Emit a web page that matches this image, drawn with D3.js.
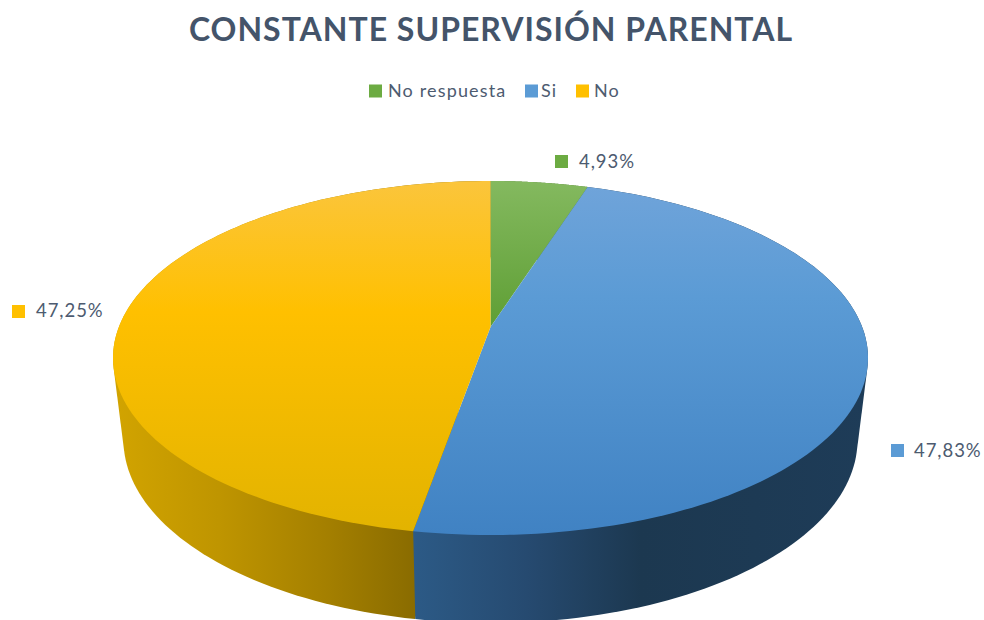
<!DOCTYPE html>
<html lang="es">
<head>
<meta charset="utf-8">
<title>Constante supervisión parental</title>
<script src="https://cdn.jsdelivr.net/npm/d3@7/dist/d3.min.js"></script>
<style>
  html, body { margin: 0; padding: 0; background: #fff; }
  svg { display: block; }
  text { font-family: Lato, "Open Sans", sans-serif; fill: #4d5b70; }
</style>
</head>
<body>
<svg id="chart" width="984" height="620"></svg>
<script>
// Chart content
const chartTitle = "CONSTANTE SUPERVISIÓN PARENTAL";
const categories = ["No respuesta", "Si", "No"];
const shares = [4.93, 47.83, 47.25];
const shareLabels = ["4,93%", "47,83%", "47,25%"];

// Per-slice colours: swatch, top-face gradient stops, side-wall gradient stops
const swatchColors = ["#6cab42", "#5b9bd5", "#ffc000"];
const faceStops = [
  [[0, "#84b95f"], [1, "#5f9f35"]],
  [[0, "#70a4da"], [0.33, "#5b9bd5"], [1, "#4082c3"]],
  [[0, "#fbc53c"], [0.37, "#ffc000"], [1, "#e2b300"]]
];
const wallStops = [
  [[0, "#4c7a2c"], [1, "#4c7a2c"]],
  [[0, "#2c5a86"], [0.25, "#264a70"], [0.5, "#1c3850"], [1, "#1e3c58"]],
  [[0, "#d2a400"], [0.35, "#bf9500"], [0.7, "#a58000"], [1, "#8a6c00"]]
];

const width = 984, height = 620;
const svg = d3.select("#chart");
const defs = svg.append("defs");

// Top rim and bottom rim of the tilted disc
const topRim = { cx: 490.5, cy: 358, rx: 377.5, ry: 177 };
const bottomRim = { cx: 490.5, cy: 440, rx: 367, ry: 183 };
const tilt = -0.175; // perspective shift of the disc centre towards the back

// Projects a point of the unit disc onto a rim ellipse
function project(rim, u, v) {
  const w = 1 + tilt * v;
  const x = u * Math.sqrt(1 - tilt * tilt) / w;
  const y = (v + tilt) / w;
  return [rim.cx + rim.rx * x, rim.cy + rim.ry * y];
}
const rimPoint = (rim, a) => project(rim, Math.sin(a), -Math.cos(a));

const slices = d3.pie().sort(null).value(d => d)(shares);
const arcSamples = (s) => d3.range(0, 121).map(i => s.startAngle + (s.endAngle - s.startAngle) * i / 120);

function addGradient(id, stops, x1, y1, x2, y2) {
  const g = defs.append("linearGradient").attr("id", id)
    .attr("gradientUnits", "userSpaceOnUse")
    .attr("x1", x1).attr("y1", y1).attr("x2", x2).attr("y2", y2);
  stops.forEach(([o, c]) => g.append("stop").attr("offset", o).attr("stop-color", c));
}

const line = d3.line().curve(d3.curveLinearClosed);

// Side walls: the hull of a slice's top and bottom rim arcs, later slices on top
const wallStart = [[415, 0, 868, 0], [414, 0, 868, 0], [113, 0, 414, 0]];
const wallOrder = [0, 2, 1];
wallOrder.forEach(i => {
  const [x1, y1, x2, y2] = wallStart[i];
  addGradient(`wall-${i}`, wallStops[i], x1, y1, x2, y2);
  const angles = arcSamples(slices[i]);
  const hull = d3.polygonHull([
    ...angles.map(a => rimPoint(topRim, a)),
    ...angles.map(a => rimPoint(bottomRim, a))
  ]);
  svg.append("path").attr("d", line(hull)).attr("fill", `url(#wall-${i})`);
});

// Top faces
const faceRange = [[181, 325], [181, 535], [181, 535]];
slices.forEach((s, i) => {
  addGradient(`face-${i}`, faceStops[i], 0, faceRange[i][0], 0, faceRange[i][1]);
  const pts = [project(topRim, 0, 0), ...arcSamples(s).map(a => rimPoint(topRim, a))];
  svg.append("path").attr("d", line(pts)).attr("fill", `url(#face-${i})`);
});

// Title
svg.append("text").attr("x", 491).attr("y", 41).attr("text-anchor", "middle")
  .attr("font-size", 32).attr("font-weight", 700).attr("letter-spacing", 1)
  .style("fill", "#44546a")
  .text(chartTitle);

// Legend
const legendSwatchX = [369, 525, 576];
const legendTextX = [388, 541, 594];
categories.forEach((c, i) => {
  svg.append("rect").attr("x", legendSwatchX[i]).attr("y", 84.5).attr("width", 13).attr("height", 13)
    .attr("fill", swatchColors[i]);
  svg.append("text").attr("x", legendTextX[i]).attr("y", 97).attr("font-size", 18)
    .attr("letter-spacing", 1.15).text(c);
});

// Data labels with their colour keys
const labelSwatch = [[555, 155], [891, 444], [12, 305]];
const labelText = [[579, 168], [914, 456.5], [36, 317]];
shareLabels.forEach((t, i) => {
  svg.append("rect").attr("x", labelSwatch[i][0]).attr("y", labelSwatch[i][1])
    .attr("width", 13).attr("height", 13).attr("fill", swatchColors[i]);
  svg.append("text").attr("x", labelText[i][0]).attr("y", labelText[i][1]).attr("font-size", 18.5)
    .attr("letter-spacing", 0.95).text(t);
});
</script>
</body>
</html>
